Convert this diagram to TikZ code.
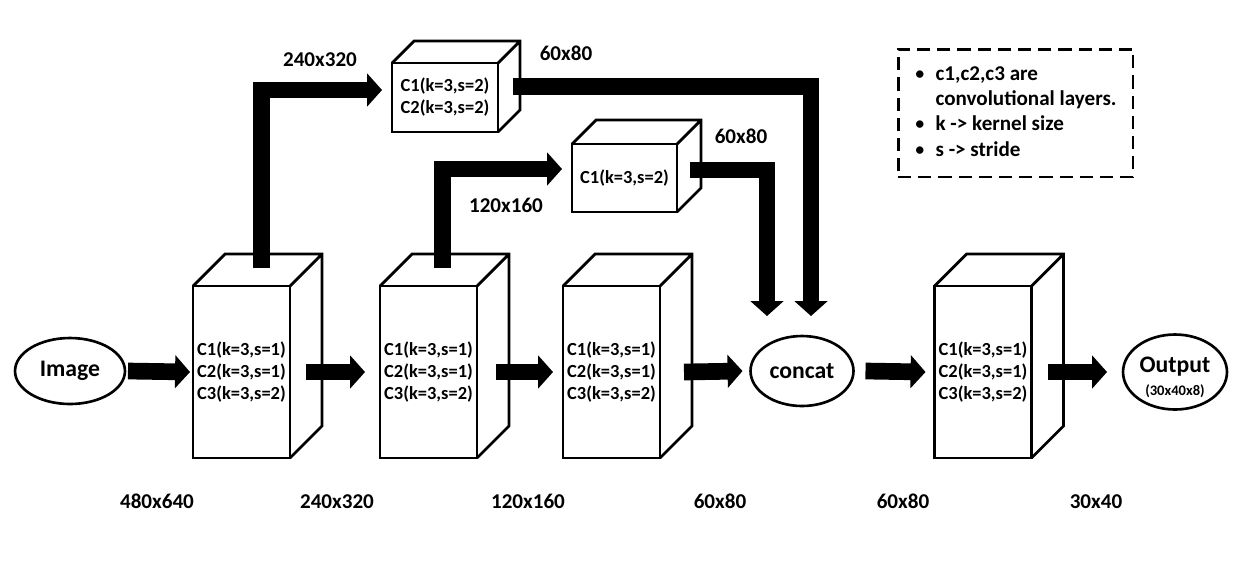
\documentclass[tikz,border=0pt]{standalone}
\usepackage{fontspec}
\setmainfont{Carlito}
\usetikzlibrary{arrows.meta, shapes.geometric}

\begin{document}
\begin{tikzpicture}[
  x=0.02cm, y=-0.02cm,
  edge/.style={line width=1.6pt, line join=miter},
  layer/.style={rectangle, draw, line width=1.6pt, outer sep=0pt, inner sep=0pt, minimum width=1.94cm, minimum height=3.44cm, align=center, font=\bfseries\fontsize{10.5}{12.5}\selectfont},
  sublayer/.style={layer, minimum width=2.12cm, minimum height=1.38cm},
  oval/.style={ellipse, draw, line width=1.5pt, outer sep=0pt, inner sep=0pt, align=center, font=\bfseries\fontsize{13.5}{16}\selectfont},
  size/.style={anchor=base, font=\bfseries\fontsize{12}{14}\selectfont},
  blk/.style={line width=9.5pt, line join=miter, -{Triangle[length=8.5pt, width=18.5pt]}}
]
  \useasboundingbox (0,0) rectangle (1253,576);

  % Nodes
  \node[oval, minimum width=2.2cm, minimum height=1.32cm] (img) at (70,371) {Image};
  \node[layer] (c1) at (241.5,372) {C1(k=3,s=1)\\C2(k=3,s=1)\\C3(k=3,s=2)};
  \node[layer] (c2) at (428.5,372) {C1(k=3,s=1)\\C2(k=3,s=1)\\C3(k=3,s=2)};
  \node[layer] (c3) at (611.5,372) {C1(k=3,s=1)\\C2(k=3,s=1)\\C3(k=3,s=2)};
  \node[oval, minimum width=2.06cm, minimum height=1.4cm] (cc) at (802,371) {concat};
  \node[layer] (c4) at (983,372) {C1(k=3,s=1)\\C2(k=3,s=1)\\C3(k=3,s=2)};
  \node[oval, minimum width=2.08cm, minimum height=1.5cm] (out) at (1175,372)
    {\raisebox{0pt}[0pt][0pt]{\begin{tabular}[t]{@{}c@{}}Output\\[-2.6pt]{\fontsize{8.3}{10}\selectfont (30x40x8)}\end{tabular}}};
  \node[sublayer] (s1) at (445,97.5) {C1(k=3,s=2)\\C2(k=3,s=2)};
  \node[sublayer, minimum width=2.1cm, minimum height=1.36cm] (s2) at (624.5,178) {C1(k=3,s=2)};

  % 3D faces
  \foreach \n/\d in {c1/32, c2/32, c3/32, c4/32, s1/22, s2/24}
    \draw[edge] (\n.north west) -- ++(\d,-\d) -- ([shift={(\d,-\d)}]\n.north east)
      -- ([shift={(\d,-\d)}]\n.south east) -- (\n.south east)
      (\n.north east) -- ++(\d,-\d);

  % Sizes
  \node[size] (d0) at (157,508) {480x640};
  \node[size] (d1) at (337,508) {240x320};
  \node[size] (d2) at (528,508) {120x160};
  \node[size] (d3) at (720,508) {60x80};
  \node[size] (d4) at (903,508) {60x80};
  \node[size] (d5) at (1096,508) {30x40};
  \node[size] (t1) at (320,66) {240x320};
  \node[size] (t2) at (566,60) {60x80};
  \node[size] (t3) at (741,143) {60x80};
  \node[size] (t4) at (506,212) {120x160};

  % Legend
  \node[draw, line width=1.7pt, dash pattern=on 7.5pt off 4pt, minimum width=4.7cm, minimum height=2.56cm, font=\bfseries\fontsize{12}{14.4}\selectfont] (key) at (1015.5,113)
    {\begin{tabular}{@{}l@{\hspace{6pt}}l@{}}
      {\mdseries\textbullet} & c1,c2,c3 are\\
      & convolutional layers.\\
      {\mdseries\textbullet} & k -> kernel size\\
      {\mdseries\textbullet} & s -> stride
    \end{tabular}};

  % Paths
  \draw[blk] ([shift={(3,0)}]img.east) -- ([shift={(-3,0)}]c1.west);
  \draw[blk] ([shift={(16,0)}]c1.east) -- ([shift={(-15,0)}]c2.west);
  \draw[blk] ([shift={(19,0)}]c2.east) -- ([shift={(-10,0)}]c3.west);
  \draw[blk] ([shift={(24,0)}]c3.east) -- ([shift={(-8,0)}]cc.west);
  \draw[blk] ([shift={(12,0)}]cc.east) -- ([shift={(-9,0)}]c4.west);
  \draw[blk] ([shift={(16,0)}]c4.east) -- ([shift={(-16,0)}]out.west);
  \draw[blk] ([shift={(20,-18)}]c1.north) |- ([shift={(-10,-7.5)}]s1.west);
  \draw[blk] ([shift={(14,-18)}]c2.north) |- ([shift={(-10,-9)}]s2.west);
  \draw[blk] ([shift={(15,-11)}]s1.east) -| ([shift={(9,-20)}]cc.north);
  \draw[blk] ([shift={(13,-8)}]s2.east) -| ([shift={(-35,-20)}]cc.north);
\end{tikzpicture}
\end{document}
